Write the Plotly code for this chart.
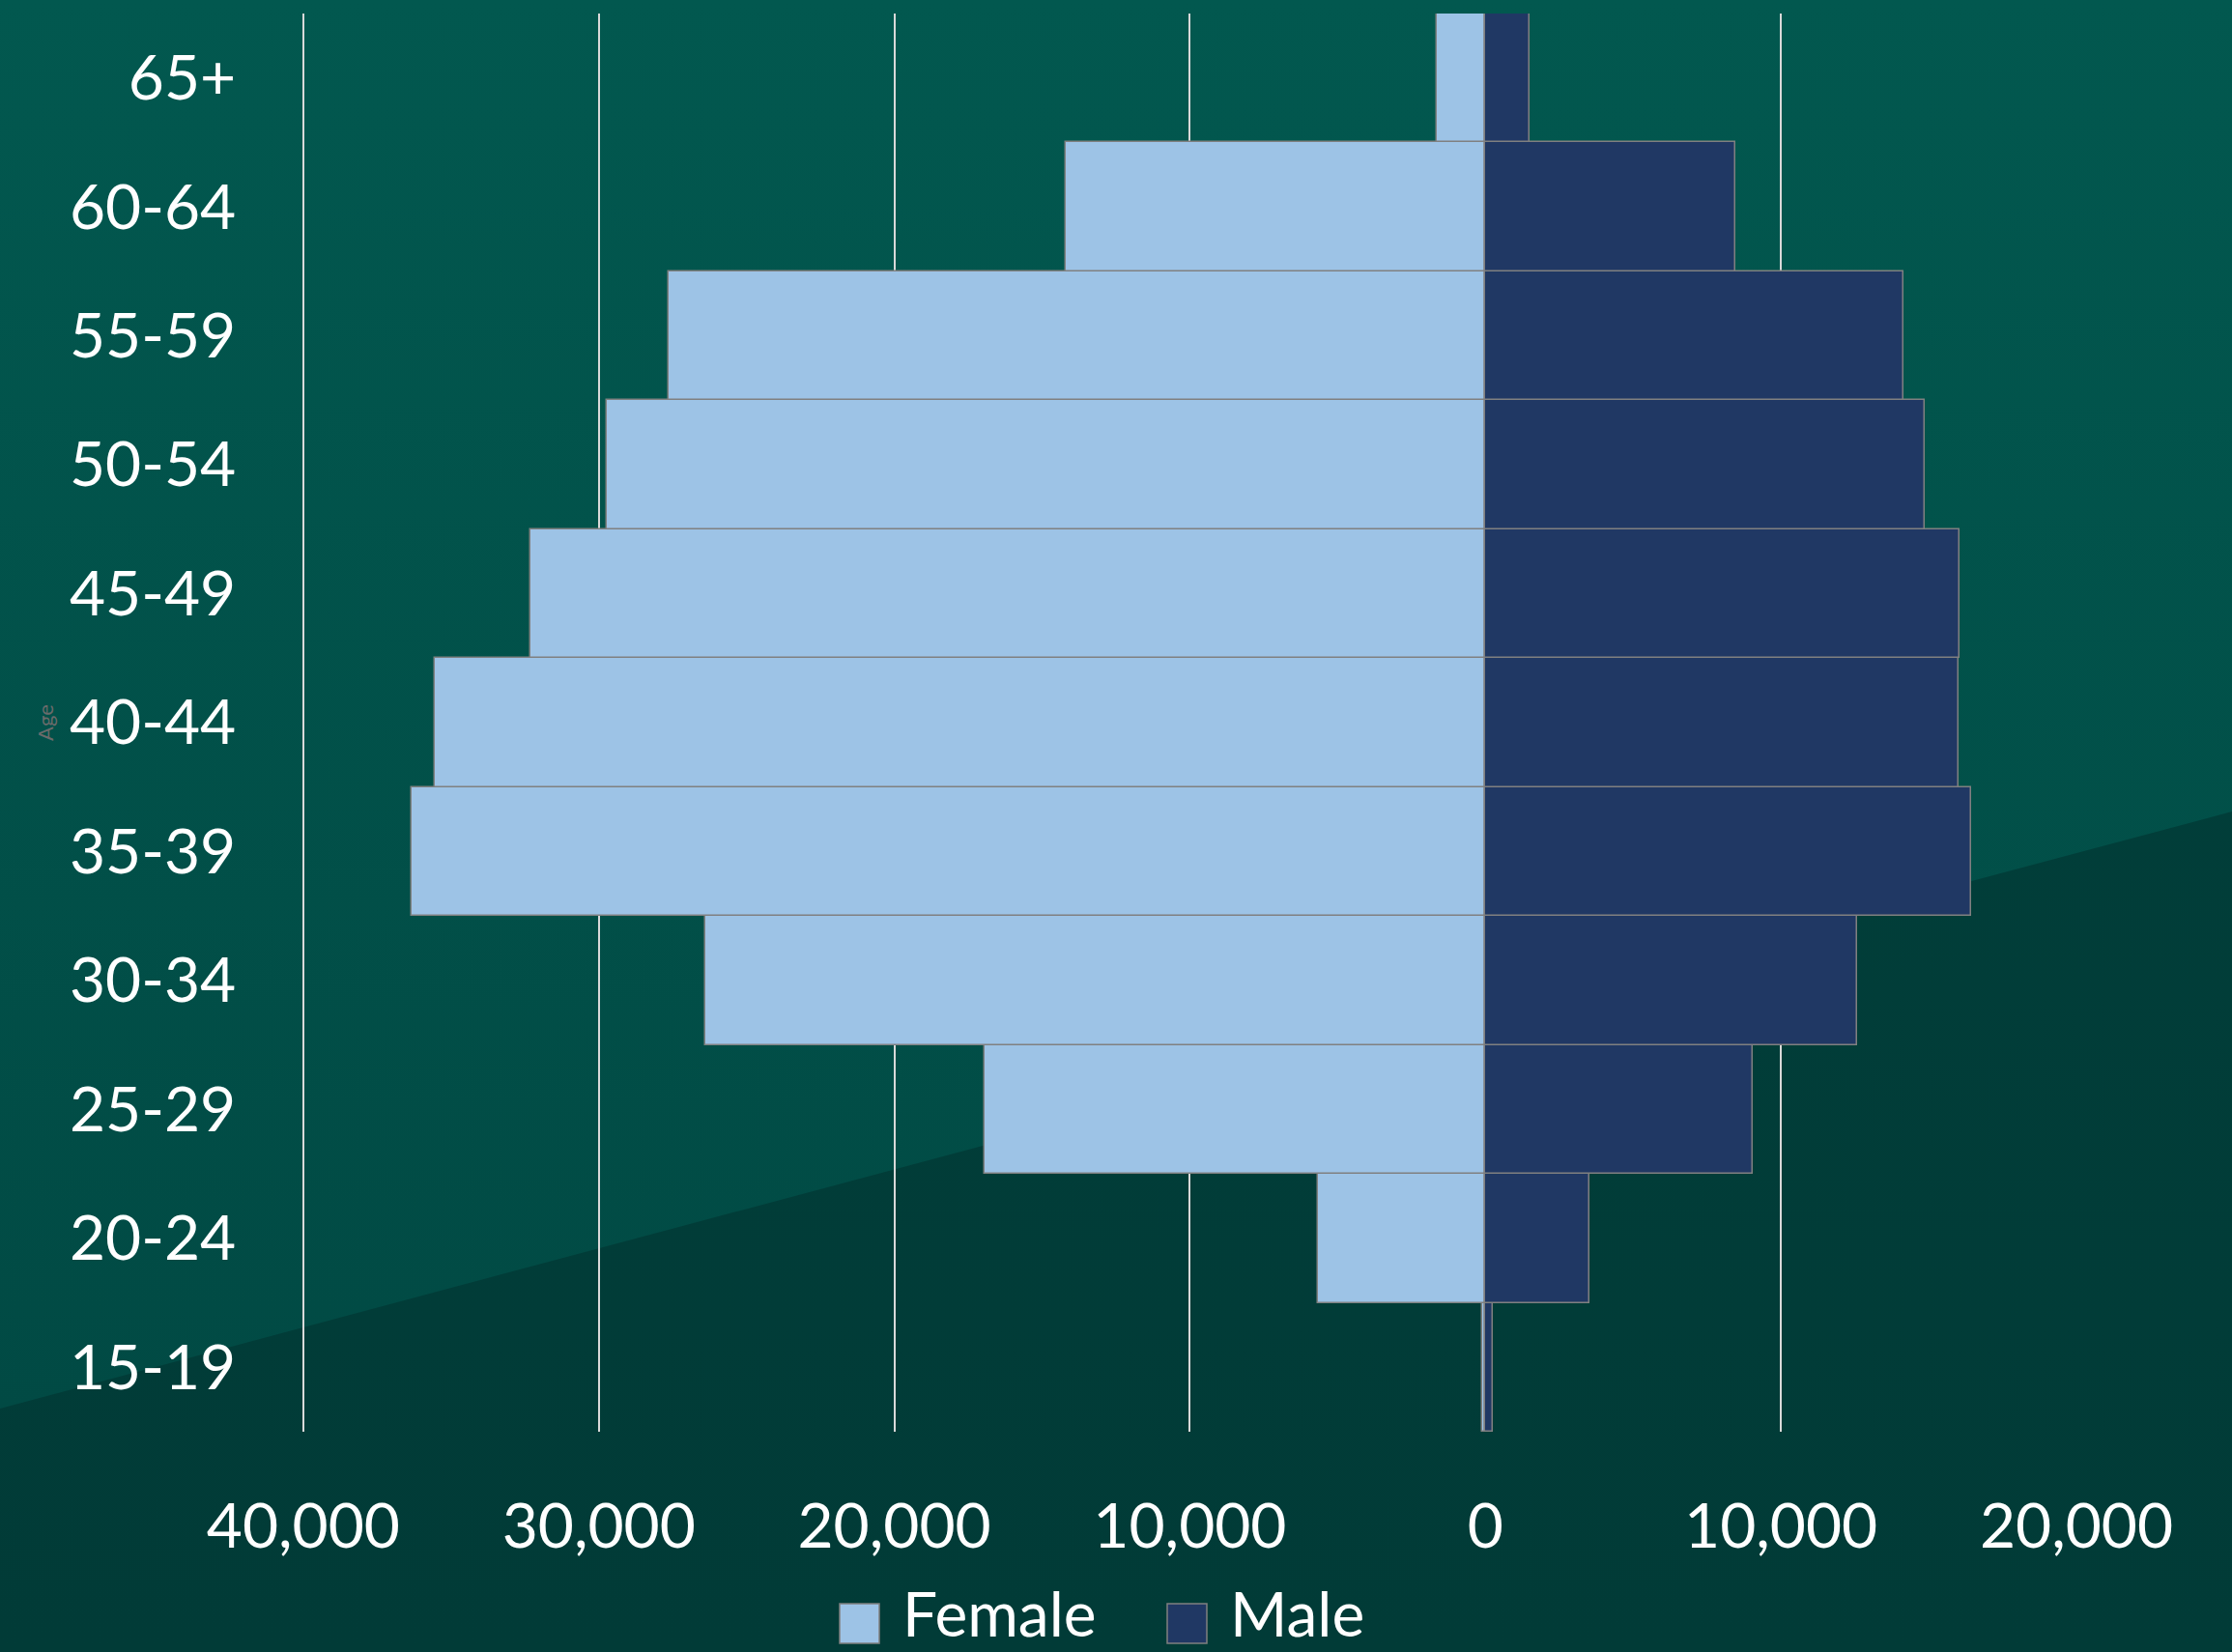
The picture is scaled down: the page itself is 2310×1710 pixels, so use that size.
import base64
import plotly.graph_objects as go

# ---- data ----
age_groups = ["15-19", "20-24", "25-29", "30-34", "35-39", "40-44",
              "45-49", "50-54", "55-59", "60-64", "65+"]
female = [100, 5680, 16950, 26400, 36340, 35550, 32310, 29720, 27640, 14200, 1640]
male = [260, 3530, 9050, 12590, 16450, 16000, 16030, 14870, 14160, 8470, 1510]
x_tickvals = [-40000, -30000, -20000, -10000, 0, 10000, 20000]
x_ticktext = ["40,000", "30,000", "20,000", "10,000", "0", "10,000", "20,000"]

W, H = 2310, 1710
L, R, T, B = 312, 161, 14, 228
PW, PH = W - L - R, H - T - B

FONT = "Lato, 'Open Sans', sans-serif"
F_COLOR = "#9DC3E6"
M_COLOR = "#203864"
EDGE = "#808080"

fig = go.Figure()
fig.add_trace(go.Bar(
    y=age_groups, x=[-v for v in female], orientation="h", name="Female",
    marker=dict(color=F_COLOR, line=dict(color=EDGE, width=1.5)),
    showlegend=False,
))
fig.add_trace(go.Bar(
    y=age_groups, x=male, orientation="h", name="Male",
    marker=dict(color=M_COLOR, line=dict(color=EDGE, width=1.5)),
    showlegend=False,
))

# background (gradient with diagonal split) as an inline svg image
svg = f"""<svg xmlns='http://www.w3.org/2000/svg' width='{W}' height='{H}' viewBox='0 0 {W} {H}' preserveAspectRatio='none'>
<defs>
<linearGradient id='a' x1='0' y1='0' x2='0' y2='1'><stop offset='0' stop-color='#02584f'/><stop offset='1' stop-color='#014a44'/></linearGradient>
<linearGradient id='b' x1='0' y1='0' x2='0' y2='1'><stop offset='0' stop-color='#01403b'/><stop offset='1' stop-color='#013b37'/></linearGradient>
</defs>
<rect width='{W}' height='{H}' fill='url(#b)'/>
<polygon points='0,0 {W},0 {W},840 0,1458' fill='url(#a)'/>
</svg>"""
src = "data:image/svg+xml;base64," + base64.b64encode(svg.encode()).decode()


def px_x(p):
    return (p - L) / PW


def px_y(p):
    return (H - B - p) / PH


fig.add_layout_image(dict(
    source=src, xref="paper", yref="paper",
    x=px_x(0), y=px_y(0), sizex=W / PW, sizey=H / PH,
    xanchor="left", yanchor="top", sizing="stretch", layer="below",
))

# legend (custom, large swatches)
legend_items = [("Female", F_COLOR, 869, 932), ("Male", M_COLOR, 1208, 1271)]
for name, col, sx, tx in legend_items:
    fig.add_shape(type="rect", xref="paper", yref="paper",
                  x0=px_x(sx), x1=px_x(sx + 41), y0=px_y(1701), y1=px_y(1660),
                  fillcolor=col, line=dict(color=EDGE, width=1.5))
    fig.add_annotation(text=name, xref="paper", yref="paper",
                       x=px_x(tx), y=px_y(1710), xanchor="left", yanchor="bottom",
                       showarrow=False, font=dict(family=FONT, size=64, color="white"))

fig.update_layout(
    width=W, height=H,
    margin=dict(l=L, r=R, t=T, b=B, autoexpand=False),
    paper_bgcolor="#01443f",
    plot_bgcolor="rgba(0,0,0,0)",
    barmode="relative",
    bargap=0,
    showlegend=False,
    font=dict(family=FONT, color="white"),
    xaxis=dict(
        range=[-40060, 20000],
        tickvals=x_tickvals, ticktext=x_ticktext,
        showgrid=True, gridcolor="#d9d9d9", gridwidth=1.5,
        zeroline=False, showline=False,
        ticks="outside", ticklen=42, tickcolor="rgba(0,0,0,0)",
        tickfont=dict(family=FONT, size=64, color="white"),
        automargin=False,
    ),
    yaxis=dict(
        type="category",
        showgrid=False, zeroline=False, showline=False,
        ticks="outside", ticklen=54, tickcolor="rgba(0,0,0,0)",
        tickfont=dict(family=FONT, size=64, color="white"),
        title=dict(text="Age", font=dict(family=FONT, size=22, color="#6b6b6b"), standoff=10),
        automargin=False,
    ),
)

fig.write_html("out.html")
